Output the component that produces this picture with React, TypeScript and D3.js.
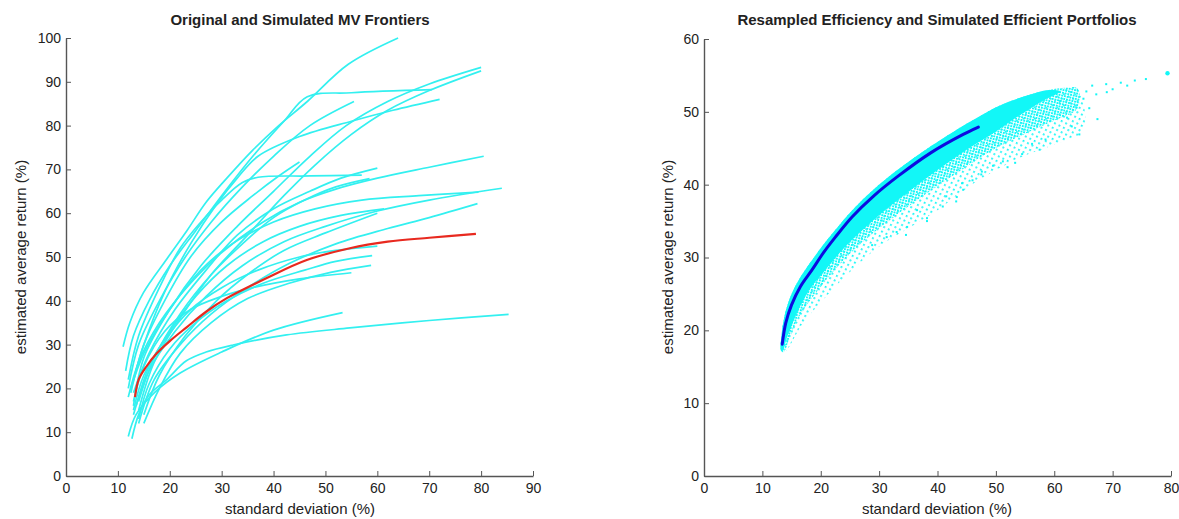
import React, { useRef, useEffect } from "react";
import * as d3 from "d3";

type Pt = [number, number];

// left panel: simulated mean-variance frontiers (std dev %, return %)
const leftXTicks = [0, 10, 20, 30, 40, 50, 60, 70, 80, 90];
const leftYTicks = [0, 10, 20, 30, 40, 50, 60, 70, 80, 90, 100];

const simulatedFrontiers: Pt[][] = [
  [[11, 29.5], [12.3, 35], [14.9, 41.8], [19.4, 49.5], [23.3, 56], [27, 62.5], [31, 68], [36, 74.4], [41, 80], [46.5, 85.5], [54.4, 94], [64, 100]],
  [[11.5, 24], [13, 32], [16, 40], [20, 48], [25, 56], [30, 64], [36, 73], [42, 81], [46.5, 86.6], [55, 87.5], [70.5, 88.2]],
  [[12, 20], [14, 30], [18, 40], [23, 50], [28, 58], [34, 66], [40, 73], [47, 80], [55.5, 85.5]],
  [[13, 16], [15, 27], [20, 38], [26, 48], [33, 57], [40, 65], [47, 73], [54, 80], [62, 85.5], [70, 89.5], [80, 93.3]],
  [[14, 15], [17, 26], [22, 36], [28, 46], [35, 55], [42, 64], [48, 71], [55, 78], [62, 83.5], [70, 88], [80, 92.5]],
  [[13, 22], [15, 30], [19, 42], [24, 53], [29, 62], [33, 68], [37, 73], [45, 77.5], [55, 81], [63, 83.5], [72, 86]],
  [[12, 18], [14, 26], [18, 35], [24, 44], [30, 51], [38, 58], [45, 62.5], [52, 65.5], [60, 68], [70, 70.5], [80.5, 73]],
  [[13, 14], [16, 24], [21, 33], [27, 41], [34, 48], [42, 53.5], [50, 57], [60, 60.5], [70, 63], [84, 65.7]],
  [[14, 12], [17, 22], [22, 30], [28, 37], [35, 43], [43, 48.5], [52, 53], [62, 56.5], [70, 59], [79.3, 62.2]],
  [[12.5, 20], [15, 28], [20, 38], [26, 47], [32, 53], [40, 58], [48, 61], [57, 63], [68, 64], [79.5, 64.8]],
  [[13, 19], [16, 28], [21, 38], [27, 47], [33, 55], [40, 61], [47, 65], [53, 68], [60, 70.3]],
  [[14, 17], [17, 27], [22, 37], [28, 46], [34, 53], [40, 59], [46, 63], [52, 66], [58.5, 67.9]],
  [[12, 22], [14, 32], [18, 43], [22, 52], [26, 58], [30, 63], [34, 67], [37, 68.2], [47, 68.5], [57, 68.7]],
  [[12.5, 19], [15, 30], [19, 40], [24, 50], [30, 58], [36, 64], [41, 68.5], [45, 71.7]],
  [[13.5, 16], [16, 25], [20, 33], [25, 41], [31, 48], [38, 53.5], [45, 57], [53, 59.5], [61.3, 61]],
  [[15, 14], [18, 23], [23, 32], [29, 40], [35, 46], [42, 51.5], [50, 55.5], [60, 60]],
  [[13, 15], [15, 23], [19, 31], [24, 38], [30, 43], [37, 47], [45, 50], [52, 51.5], [60, 52.5]],
  [[14, 13], [16, 21], [20, 29], [25, 35], [31, 40], [38, 44], [46, 47], [52, 49], [59, 50.3]],
  [[15, 12], [18, 20], [22, 28], [28, 35], [35, 40.5], [43, 44], [51, 46.5], [58.8, 48.1]],
  [[13, 17], [15, 25], [19, 33], [24, 38], [30, 41], [36, 43], [45, 45], [55, 46.4]],
  [[12, 9], [13.5, 14], [17, 19], [22, 23.5], [30, 28.3], [40, 33.3], [53.3, 37.3]],
  [[12.7, 8.5], [14, 14], [16, 18.5], [19.4, 22], [23.2, 26.3], [27, 28.3], [32.2, 29.9], [42.5, 32.2], [54.7, 33.8], [70, 35.5], [85.3, 36.9]],
];

const originalFrontier: Pt[] = [
  [13.3, 18], [14, 22], [15.5, 25], [17.5, 28], [20, 30.8], [23.3, 34], [27, 37.5], [31, 40.6], [38.7, 45.2],
  [46.4, 49.3], [54.7, 52], [62, 53.5], [70, 54.4], [79, 55.3],
];

// right panel: resampled frontier and cloud of simulated efficient portfolios
const rightXTicks = [0, 10, 20, 30, 40, 50, 60, 70, 80];
const rightYTicks = [0, 10, 20, 30, 40, 50, 60];

const resampledFrontier: Pt[] = [
  [13.4, 18.1], [14.0, 21], [15.0, 23.5], [16.5, 26], [18.5, 28.3], [20.5, 30.7], [22.5, 32.8],
  [25.4, 35.6], [29, 38.4], [33.3, 41.2], [38.9, 44.4], [44.4, 46.9], [47, 47.9],
];

const cloudUpper: Pt[] = [
  [13.2, 17.2], [13.3, 19.5], [13.8, 22], [14.8, 24.6], [16.3, 27], [18.3, 29.4], [20.3, 31.6],
  [22.4, 33.7], [25.4, 36.5], [29, 39.3], [33.3, 42.1], [38.9, 45.3], [44.4, 48.1], [47, 49.3],
  [50.5, 50.8], [54.8, 52.1], [59.1, 53], [62, 53.3], [64, 53.2],
];
const cloudSolidLower: Pt[] = [
  [61, 52.8], [58, 51.5], [54, 49.5], [50, 47.3], [45, 44.8], [40, 42], [35, 39], [30, 35.8],
  [24, 31.3], [20.3, 27.8], [18, 25.5], [16, 22.5], [14.2, 19], [13.5, 17.2],
];
const cloudMediumLower: Pt[] = [
  [64, 50.5], [60, 48.8], [55, 47], [50, 45], [45, 42.5], [40, 39.8], [35, 37], [30, 34],
  [25, 30.5], [20, 26], [16, 21.5], [13.6, 17],
];
const cloudSparseLower: Pt[] = [
  [65, 47.5], [60, 45.5], [55, 44], [50, 42], [45, 39.5], [40, 36.5], [35, 34], [30, 31.5],
  [25, 28], [21, 24.7], [17, 21], [13.8, 17],
];
const cloudOutliers: Pt[] = [
  [47.5, 41.4], [44.4, 39.3], [43.2, 37.7], [38.2, 35], [34.6, 33.1], [53.3, 43], [58.5, 46.2],
  [64.3, 46.9], [67.4, 49], [62.2, 49.2], [61, 51.5], [66.5, 53.6], [68.9, 53.8], [71.4, 54],
  [73.8, 54.3], [75.7, 54.5], [38.2, 35.4], [36.5, 36.5], [34.8, 34.2], [33, 33.5], [31.3, 32.8],
  [40.9, 37], [43.3, 38.3], [44.2, 40.2], [47.6, 41.8], [65.5, 52.8], [67.2, 52.4], [70, 53.1],
  [72.5, 53.6], [63.8, 50.6], [56.2, 45.6], [51.2, 43.2], [49.5, 42.6], [41.5, 38.4], [28.8, 31.7],
  [65, 51.8], [66, 50.5], [63, 48], [57.5, 44.8], [54.5, 44.2], [52, 42.4], [46, 40.6], [69, 52.7],
];
const cloudTopPoint: Pt = [79.4, 55.3];

const FONT = "'Liberation Sans', Arial, sans-serif";
const LINE_CYAN = "#33f0f0";
const CLOUD_CYAN = "#12f7f7";

function drawAxes(g: any, x: any, y: any, xTicks: number[], yTicks: number[]) {
  const xa = g.append("g").attr("transform", `translate(0,${y.range()[0]})`)
    .call(d3.axisBottom(x).tickValues(xTicks).tickSizeInner(-5).tickSizeOuter(0).tickPadding(7));
  const ya = g.append("g").attr("transform", `translate(${x.range()[0]},0)`)
    .call(d3.axisLeft(y).tickValues(yTicks).tickSizeInner(-5).tickSizeOuter(0).tickPadding(5));
  [xa, ya].forEach((a) => {
    a.selectAll("path.domain").attr("stroke", "#555").attr("stroke-width", 1.4);
    a.selectAll(".tick line").attr("stroke", "#555").attr("stroke-width", 1);
    a.selectAll(".tick text").attr("font-family", FONT).attr("font-size", 14).attr("fill", "#222");
  });
}

function App() {
  const svgRef = useRef<SVGSVGElement>(null);

  useEffect(() => {
    const svg = d3.select(svgRef.current);
    svg.selectAll("*").remove();

    const defs = svg.append("defs");
    const addSpeck = (id: string, step: number, size: number, angle: number) =>
      defs.append("pattern").attr("id", id).attr("width", step).attr("height", step)
        .attr("patternUnits", "userSpaceOnUse").attr("patternTransform", `rotate(${angle})`)
        .append("rect").attr("width", size).attr("height", size).attr("fill", CLOUD_CYAN);
    addSpeck("speckSparse", 5, 1.8, 27);
    addSpeck("speckMedium", 2.8, 1.9, 14);

    // ---- left panel
    const xL = d3.scaleLinear().domain([0, 90]).range([66, 533]);
    const yL = d3.scaleLinear().domain([0, 100]).range([476, 38]);
    const left = svg.append("g");
    drawAxes(left, xL, yL, leftXTicks, leftYTicks);

    const lineL = d3.line<Pt>().x((d) => xL(d[0])).y((d) => yL(d[1])).curve(d3.curveCatmullRom.alpha(0.5));
    left.selectAll(".sim")
      .data(simulatedFrontiers)
      .join("path")
      .attr("class", "sim")
      .attr("d", lineL)
      .attr("fill", "none")
      .attr("stroke", LINE_CYAN)
      .attr("stroke-width", 1.7);
    left.append("path")
      .attr("d", lineL(originalFrontier))
      .attr("fill", "none")
      .attr("stroke", "#e8291f")
      .attr("stroke-width", 2.2);

    // ---- right panel
    const xR = d3.scaleLinear().domain([0, 80]).range([704, 1171]);
    const yR = d3.scaleLinear().domain([0, 60]).range([476, 39]);
    const right = svg.append("g");
    drawAxes(right, xR, yR, rightXTicks, rightYTicks);

    const ring = d3.line<Pt>().x((d) => xR(d[0])).y((d) => yR(d[1])).curve(d3.curveCatmullRomClosed);
    right.append("path")
      .attr("d", ring([...cloudUpper, ...cloudSparseLower]))
      .attr("fill", "url(#speckSparse)");
    right.append("path")
      .attr("d", ring([...cloudUpper, ...cloudMediumLower]))
      .attr("fill", "url(#speckMedium)");
    right.append("path")
      .attr("d", ring([...cloudUpper.filter((d) => d[0] <= 61), ...cloudSolidLower]))
      .attr("fill", CLOUD_CYAN);
    right.selectAll(".pt")
      .data(cloudOutliers)
      .join("rect")
      .attr("class", "pt")
      .attr("x", (d) => xR(d[0]) - 1)
      .attr("y", (d) => yR(d[1]) - 1)
      .attr("width", 2)
      .attr("height", 2)
      .attr("fill", CLOUD_CYAN);
    right.append("circle")
      .attr("cx", xR(cloudTopPoint[0])).attr("cy", yR(cloudTopPoint[1]))
      .attr("r", 2.2).attr("fill", CLOUD_CYAN);

    const lineR = d3.line<Pt>().x((d) => xR(d[0])).y((d) => yR(d[1])).curve(d3.curveCatmullRom.alpha(0.5));
    right.append("path")
      .attr("d", lineR(resampledFrontier))
      .attr("fill", "none")
      .attr("stroke", "#0c0ce0")
      .attr("stroke-width", 3)
      .attr("stroke-linecap", "round");

    // ---- titles and labels
    const text = (x: number, y: number, s: string, size: number, rot = false) =>
      svg.append("text")
        .attr("transform", rot ? `translate(${x},${y}) rotate(-90)` : `translate(${x},${y})`)
        .attr("text-anchor", "middle")
        .attr("font-family", FONT)
        .attr("font-size", size)
        .attr("fill", "#222")
        .text(s);

    text(300, 25, "Original and Simulated MV Frontiers", 15).attr("font-weight", "bold");
    text(937, 25, "Resampled Efficiency and Simulated Efficient Portfolios", 15).attr("font-weight", "bold");
    text(300, 514, "standard deviation (%)", 15);
    text(937, 514, "standard deviation (%)", 15);
    text(26, 257, "estimated average return (%)", 15, true);
    text(673, 257, "estimated average return (%)", 15, true);
  }, []);

  return (
    <svg ref={svgRef} width={1179} height={519}
      style={{ position: "absolute", left: 0, top: 0, background: "#fff" }} />
  );
}

export default App;
